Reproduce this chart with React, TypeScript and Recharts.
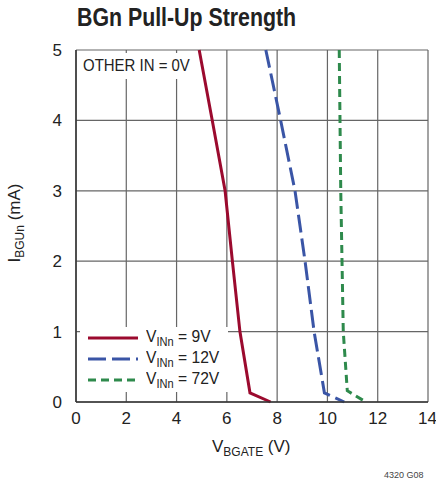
import { LineChart, Line, XAxis, YAxis, CartesianGrid } from "recharts"

// V_BGATE (V) vs I_BGUn (mA)
const vin9V = [
  { v: 4.9, i: 5 },
  { v: 5.42, i: 4 },
  { v: 5.93, i: 3 },
  { v: 6.22, i: 2 },
  { v: 6.52, i: 1 },
  { v: 6.92, i: 0.13 },
  { v: 7.74, i: 0 },
]

const vin12V = [
  { v: 7.55, i: 5 },
  { v: 8.14, i: 4 },
  { v: 8.71, i: 3 },
  { v: 9.11, i: 2 },
  { v: 9.47, i: 1 },
  { v: 9.88, i: 0.13 },
  { v: 10.67, i: 0 },
]

const vin72V = [
  { v: 10.47, i: 5 },
  { v: 10.53, i: 3 },
  { v: 10.63, i: 1 },
  { v: 10.79, i: 0.16 },
  { v: 11.53, i: 0 },
]

const xTicks = [0, 2, 4, 6, 8, 10, 12, 14]
const yTicks = [0, 1, 2, 3, 4, 5]

const legendItems = [
  { label: "9V", color: "#9b0a2e", dash: "" },
  { label: "12V", color: "#3a55a6", dash: "18 6" },
  { label: "72V", color: "#2e8a4c", dash: "8 5" },
]

const font = "'Liberation Sans Narrow', 'Arial Narrow', 'Liberation Sans', sans-serif"
const tickStyle = { fill: "#222", fontSize: 17, fontFamily: font }
const narrow = { transform: "scaleX(0.92)", transformOrigin: "left center" }

export default function App() {
  return (
    <div style={{ position: "absolute", left: 0, top: 0, width: 436, height: 482, background: "#fff", fontFamily: font, color: "#222" }}>
      <LineChart width={436} height={482} margin={{ top: 50, right: 8, bottom: 50, left: 46 }}>
        <CartesianGrid stroke="#666" strokeWidth={1.2} />
        <XAxis
          dataKey="v"
          type="number"
          domain={[0, 14]}
          ticks={xTicks}
          height={30}
          tickLine={false}
          axisLine={{ stroke: "#333", strokeWidth: 1.5 }}
          tick={tickStyle}
          tickMargin={4}
          allowDataOverflow
        />
        <YAxis
          dataKey="i"
          type="number"
          domain={[0, 5]}
          ticks={yTicks}
          width={30}
          tickLine={false}
          axisLine={{ stroke: "#333", strokeWidth: 1.5 }}
          tick={tickStyle}
          tickMargin={8}
        />
        <Line data={vin9V} dataKey="i" type="linear" stroke="#9b0a2e" strokeWidth={3} dot={false} isAnimationActive={false} />
        <Line data={vin12V} dataKey="i" type="linear" stroke="#3a55a6" strokeWidth={3} strokeDasharray="18 6" dot={false} isAnimationActive={false} />
        <Line data={vin72V} dataKey="i" type="linear" stroke="#2e8a4c" strokeWidth={3} strokeDasharray="8 5" dot={false} isAnimationActive={false} />
      </LineChart>

      <div style={{ position: "absolute", left: 77, top: 2, fontSize: 26, fontWeight: "bold", whiteSpace: "nowrap", transform: "scaleX(0.82)", transformOrigin: "left center" }}>
        BGn Pull-Up Strength
      </div>

      <div style={{ position: "absolute", left: 80, top: 53, width: 118, height: 26, background: "#fff" }}>
        <span style={{ position: "absolute", left: 3, top: 3, fontSize: 17, whiteSpace: "nowrap", transform: "scaleX(0.88)", transformOrigin: "left center" }}>OTHER IN = 0V</span>
      </div>

      <div style={{ position: "absolute", left: 80, top: 327, width: 148, height: 65, background: "#fff" }}>
        {legendItems.map((it, k) => (
          <div key={it.label} style={{ position: "absolute", left: 8, top: k * 21, height: 21, display: "flex", alignItems: "center", whiteSpace: "nowrap" }}>
            <svg width={50} height={6} style={{ marginRight: 8 }}>
              <line x1={0} y1={3} x2={50} y2={3} stroke={it.color} strokeWidth={3} strokeDasharray={it.dash} />
            </svg>
            <span style={{ fontSize: 17, display: "inline-block", ...narrow }}>
              V<sub style={{ fontSize: 12, verticalAlign: "-4px" }}>INn</sub> = {it.label}
            </span>
          </div>
        ))}
      </div>

      <div style={{ position: "absolute", left: 212, top: 437, fontSize: 17, whiteSpace: "nowrap" }}>
        V<sub style={{ fontSize: 12, verticalAlign: "-4px" }}>BGATE</sub> (V)
      </div>

      <div style={{ position: "absolute", left: 16, top: 223, width: 0, height: 0 }}>
        <div style={{ position: "absolute", transform: "translate(-50%, -50%) rotate(-90deg)", fontSize: 17, whiteSpace: "nowrap" }}>
          I<sub style={{ fontSize: 12, verticalAlign: "-4px" }}>BGUn</sub> (mA)
        </div>
      </div>

      <div style={{ position: "absolute", left: 384, top: 470, fontSize: 9, color: "#444", whiteSpace: "nowrap" }}>
        4320 G08
      </div>
    </div>
  )
}
